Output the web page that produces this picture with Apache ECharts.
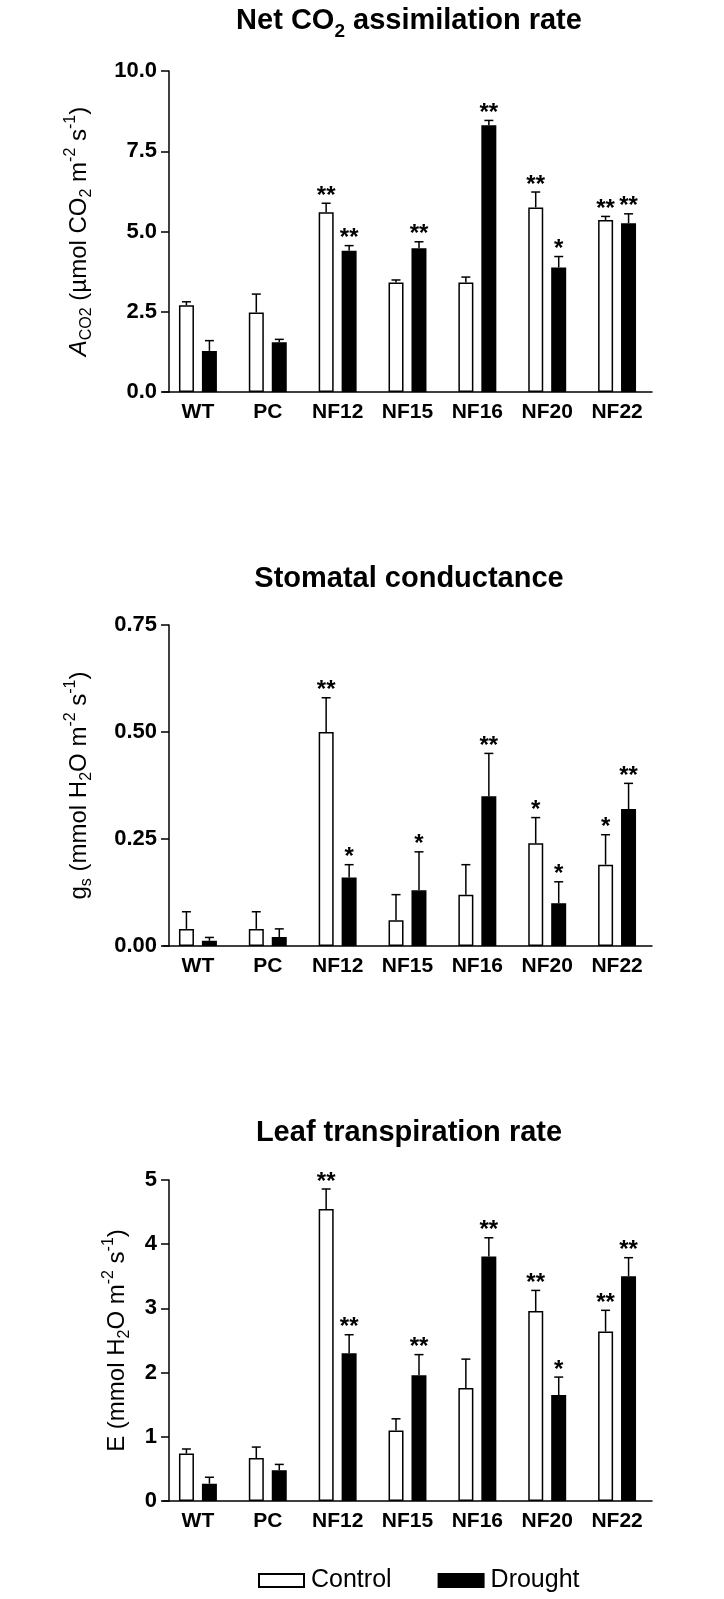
<!DOCTYPE html>
<html>
<head>
<meta charset="utf-8">
<script src="https://cdn.jsdelivr.net/npm/echarts@6/dist/echarts.min.js"></script>
<style>
html,body{margin:0;padding:0;background:#fff;}
#chart{width:724px;height:1599px;}
</style>
</head>
<body>
<div id="chart"></div>
<script>
// ---- data ----
const categories = ['WT', 'PC', 'NF12', 'NF15', 'NF16', 'NF20', 'NF22'];

// Net CO2 assimilation rate
const aControl    = [2.70, 2.48, 5.60, 3.41, 3.41, 5.75, 5.36];
const aControlErr = [0.11, 0.57, 0.28, 0.08, 0.17, 0.48, 0.11];
const aDrought    = [1.28, 1.55, 4.40, 4.48, 8.31, 3.88, 5.26];
const aDroughtErr = [0.32, 0.09, 0.16, 0.20, 0.15, 0.34, 0.29];
const aControlSig = ['', '', '**', '', '', '**', '**'];
const aDroughtSig = ['', '', '**', '**', '**', '*', '**'];
const aTicks = [0, 10, 2.5];

// Stomatal conductance
const gControl    = [0.04, 0.04, 0.50, 0.06, 0.12, 0.24, 0.19];
const gControlErr = [0.04, 0.04, 0.08, 0.06, 0.07, 0.06, 0.07];
const gDrought    = [0.012, 0.021, 0.16, 0.13, 0.35, 0.10, 0.32];
const gDroughtErr = [0.008, 0.019, 0.03, 0.09, 0.10, 0.05, 0.06];
const gControlSig = ['', '', '**', '', '', '*', '*'];
const gDroughtSig = ['', '', '*', '*', '**', '*', '**'];
const gTicks = [0, 0.75, 0.25];

// Leaf transpiration rate
const eControl    = [0.74, 0.67, 4.55, 1.10, 1.76, 2.96, 2.64];
const eControlErr = [0.07, 0.17, 0.31, 0.18, 0.45, 0.32, 0.33];
const eDrought    = [0.27, 0.48, 2.30, 1.96, 3.81, 1.65, 3.50];
const eDroughtErr = [0.10, 0.09, 0.29, 0.32, 0.29, 0.28, 0.29];
const eControlSig = ['', '', '**', '', '', '**', '**'];
const eDroughtSig = ['', '', '**', '**', '**', '*', '**'];
const eTicks = [0, 5, 1];

// ---- chart ----
const FONT = 'Liberation Sans, Arial, sans-serif';
const chart = echarts.init(document.getElementById('chart'), null, {renderer: 'canvas'});

const panels = [
  {top: 71,  ctl: aControl, ctlE: aControlErr, dr: aDrought, drE: aDroughtErr, cs: aControlSig, ds: aDroughtSig, ticks: aTicks, dec: 1,
   title: 'Net CO{sub|2} assimilation rate',
   yname: '{it|A}{sub|CO2} (µmol CO{sub|2} m{sup|-2} s{sup|-1})', ygap: 74},
  {top: 625, ctl: gControl, ctlE: gControlErr, dr: gDrought, drE: gDroughtErr, cs: gControlSig, ds: gDroughtSig, ticks: gTicks, dec: 2,
   title: 'Stomatal conductance',
   yname: 'g{sub|s} (mmol H{sub|2}O m{sup|-2} s{sup|-1})', ygap: 74},
  {top: 1180, ctl: eControl, ctlE: eControlErr, dr: eDrought, drE: eDroughtErr, cs: eControlSig, ds: eDroughtSig, ticks: eTicks, dec: 0,
   title: 'Leaf transpiration rate',
   yname: 'E (mmol H{sub|2}O m{sup|-2} s{sup|-1})', ygap: 36}
];

const titleTops = [-4, 554, 1108];
const SIDE = 11.5;

function makeErr(means, errs, sigs, side) {
  return function (params, api) {
    const i = params.dataIndex;
    const m = means[i], e = errs[i];
    const b = api.coord([i, m]);
    const t = api.coord([i, m + e]);
    const x = b[0] + side * SIDE;
    const children = [
      {type: 'line', shape: {x1: x, y1: b[1], x2: x, y2: t[1]}, style: {stroke: '#000', lineWidth: 1.5}},
      {type: 'line', shape: {x1: x - 4.5, y1: t[1], x2: x + 4.5, y2: t[1]}, style: {stroke: '#000', lineWidth: 1.5}}
    ];
    if (sigs[i]) {
      children.push({type: 'text', x: x, y: t[1] + 5,
        style: {text: sigs[i], fill: '#000', font: 'bold 24px ' + FONT, align: 'center', verticalAlign: 'bottom'}});
    }
    return {type: 'group', children: children};
  };
}

const richAxis = {
  it: {fontSize: 24, fontStyle: 'italic', fontFamily: FONT, lineHeight: 32, verticalAlign: 'middle'},
  sub: {fontSize: 16, fontFamily: FONT, verticalAlign: 'bottom', lineHeight: 16},
  sup: {fontSize: 16, fontFamily: FONT, verticalAlign: 'top', lineHeight: 16}
};

const option = {
  animation: false,
  backgroundColor: '#fff',
  title: panels.map((p, k) => ({
    text: p.title,
    left: 404, top: titleTops[k], textAlign: 'center',
    textStyle: {fontFamily: FONT, fontWeight: 'bold', fontSize: 29, color: '#000', lineHeight: 40,
      rich: {sub: {fontFamily: FONT, fontWeight: 'bold', fontSize: 19, verticalAlign: 'bottom', lineHeight: 19, color: '#000'}}}
  })),
  legend: {
    data: ['Control', 'Drought'],
    left: 253, top: 1563,
    icon: 'rect', itemWidth: 45, itemHeight: 13, itemGap: 46,
    textStyle: {fontFamily: FONT, fontSize: 25, color: '#000', padding: [0, 0, 0, 2]}
  },
  grid: panels.map(p => ({left: 163, top: p.top, width: 489, height: 321, containLabel: false})),
  xAxis: panels.map((p, k) => ({
    type: 'category', gridIndex: k, data: categories,
    axisLine: {show: true, lineStyle: {color: '#000', width: 1.5}},
    axisTick: {show: false},
    axisLabel: {color: '#000', fontFamily: FONT, fontWeight: 'bold', fontSize: 21, margin: 10}
  })),
  yAxis: panels.map((p, k) => ({
    type: 'value', gridIndex: k, min: p.ticks[0], max: p.ticks[1], interval: p.ticks[2],
    offset: -6,
    axisLine: {show: true, lineStyle: {color: '#000', width: 1.5}},
    axisTick: {show: true, length: 8, lineStyle: {color: '#000', width: 1.5}},
    splitLine: {show: false},
    axisLabel: {color: '#000', fontFamily: FONT, fontWeight: 'bold', fontSize: 22, margin: 12,
      formatter: v => v.toFixed(p.dec)},
    name: p.yname, nameLocation: 'middle', nameRotate: 90, nameGap: p.ygap,
    nameTextStyle: {color: '#000', fontFamily: FONT, fontSize: 24, lineHeight: 32, rich: richAxis}
  })),
  series: []
};

panels.forEach((p, k) => {
  option.series.push({
    name: 'Control', type: 'bar', xAxisIndex: k, yAxisIndex: k, data: p.ctl,
    barWidth: 15, barGap: '53%',
    itemStyle: {color: '#fff', borderColor: '#000', borderWidth: 1.5}
  });
  option.series.push({
    name: 'Drought', type: 'bar', xAxisIndex: k, yAxisIndex: k, data: p.dr,
    barWidth: 15, barGap: '53%',
    itemStyle: {color: '#000', borderColor: '#000', borderWidth: 1.5}
  });
  option.series.push({
    type: 'custom', xAxisIndex: k, yAxisIndex: k, z: 5, silent: true,
    renderItem: makeErr(p.ctl, p.ctlE, p.cs, -1),
    data: p.ctl.map((v, i) => [i, v])
  });
  option.series.push({
    type: 'custom', xAxisIndex: k, yAxisIndex: k, z: 5, silent: true,
    renderItem: makeErr(p.dr, p.drE, p.ds, 1),
    data: p.dr.map((v, i) => [i, v])
  });
});

chart.setOption(option);
</script>
</body>
</html>
